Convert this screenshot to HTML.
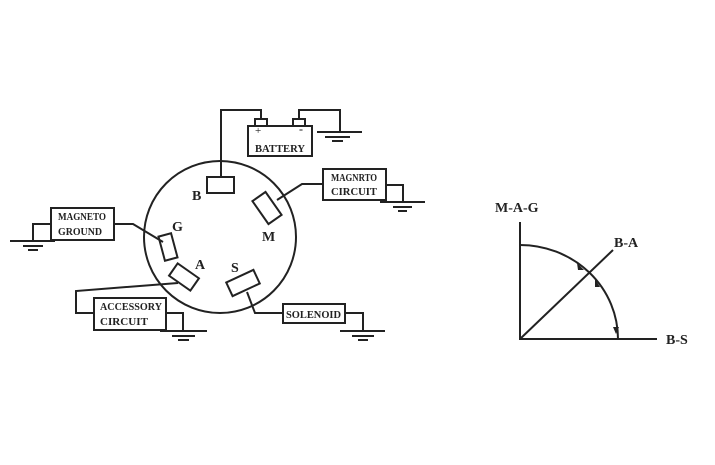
<!DOCTYPE html>
<html><head><style>
html,body{margin:0;padding:0;background:#fff;width:715px;height:465px;overflow:hidden}
svg text{font-family:"Liberation Serif",serif;fill:#222}
.b{font-size:11px;font-weight:bold}
</style></head><body>
<svg width="715" height="465" viewBox="0 0 715 465" xmlns="http://www.w3.org/2000/svg" fill="none" stroke="#222" stroke-width="2">
<circle cx="220" cy="237" r="76"/>
<rect x="207" y="177" width="27" height="16"/>
<polyline points="221,177 221,110 261,110 261,119"/>
<rect x="248" y="126" width="64" height="30"/>
<rect x="255" y="119" width="12" height="7"/>
<rect x="293" y="119" width="12" height="7"/>
<polyline points="299,119 299,110 340,110 340,132"/>
<line x1="317" y1="132" x2="362" y2="132"/>
<line x1="325" y1="137" x2="350" y2="137"/>
<line x1="332" y1="141" x2="343" y2="141"/>
<rect x="-8" y="-14" width="16" height="28" transform="translate(267,208) rotate(-35)"/>
<polyline points="277,200 302,184 323,184"/>
<rect x="323" y="169" width="63" height="31"/>
<polyline points="386,185 403,185 403,202"/>
<line x1="380" y1="202" x2="425" y2="202"/>
<line x1="393" y1="207" x2="412" y2="207"/>
<line x1="398" y1="211" x2="407" y2="211"/>
<rect x="-6.5" y="-12.5" width="13" height="25" transform="translate(168,247) rotate(-15)"/>
<polyline points="114,224 133,224 163,242"/>
<rect x="51" y="208" width="63" height="32"/>
<polyline points="51,224 33,224 33,241"/>
<line x1="10" y1="241" x2="55" y2="241"/>
<line x1="23" y1="246" x2="43" y2="246"/>
<line x1="28" y1="250" x2="38" y2="250"/>
<rect x="-13" y="-7.5" width="26" height="15" transform="translate(184,277) rotate(35)"/>
<polyline points="178,283 76,291 76,313 94,313"/>
<rect x="94" y="298" width="72" height="32"/>
<polyline points="166,313 183,313 183,331"/>
<line x1="160" y1="331" x2="207" y2="331"/>
<line x1="172" y1="336" x2="195" y2="336"/>
<line x1="178" y1="340" x2="189" y2="340"/>
<rect x="-15" y="-7.5" width="30" height="15" transform="translate(243,283) rotate(-25)"/>
<polyline points="247,292 255,313 283,313"/>
<rect x="283" y="304" width="62" height="19"/>
<polyline points="345,313 363,313 363,331"/>
<line x1="340" y1="331" x2="385" y2="331"/>
<line x1="352" y1="336" x2="374" y2="336"/>
<line x1="358" y1="340" x2="368" y2="340"/>
<g stroke="none">
<text x="192" y="200" font-size="14" font-weight="bold">B</text>
<text x="262" y="241" font-size="14" font-weight="bold">M</text>
<text x="172" y="231" font-size="14" font-weight="bold">G</text>
<text x="195" y="269" font-size="14" font-weight="bold">A</text>
<text x="231" y="272" font-size="14" font-weight="bold">S</text>
<text x="255" y="134" font-size="11">+</text>
<text x="299" y="133" font-size="12" font-weight="bold">-</text>
<text x="255" y="152" class="b" textLength="50" lengthAdjust="spacingAndGlyphs">BATTERY</text>
<text x="331" y="181" class="b" textLength="46" lengthAdjust="spacingAndGlyphs">MAGNRTO</text>
<text x="331" y="195" class="b" textLength="46" lengthAdjust="spacingAndGlyphs">CIRCUIT</text>
<text x="58" y="220" class="b" textLength="48" lengthAdjust="spacingAndGlyphs">MAGNETO</text>
<text x="58" y="235" class="b" textLength="44" lengthAdjust="spacingAndGlyphs">GROUND</text>
<text x="100" y="310" class="b" textLength="62" lengthAdjust="spacingAndGlyphs">ACCESSORY</text>
<text x="100" y="325" class="b" textLength="48" lengthAdjust="spacingAndGlyphs">CIRCUIT</text>
<text x="286" y="318" class="b" textLength="55" lengthAdjust="spacingAndGlyphs">SOLENOID</text>
<text x="495" y="212" font-size="14" font-weight="bold">M-A-G</text>
<text x="614" y="247" font-size="14" font-weight="bold">B-A</text>
<text x="666" y="344" font-size="14" font-weight="bold">B-S</text>
</g>
<line x1="520" y1="222" x2="520" y2="340"/>
<line x1="519" y1="339" x2="657" y2="339"/>
<path d="M520,245 A98,94 0 0 1 618,339"/>
<line x1="520" y1="339" x2="613" y2="250"/>
<g fill="#222" stroke="none">
<polygon points="577,263 584,270 578,270"/>
<polygon points="595,279 600,287 595,287"/>
<polygon points="613,327 619,327 616,334"/>
</g>
</svg>
</body></html>
